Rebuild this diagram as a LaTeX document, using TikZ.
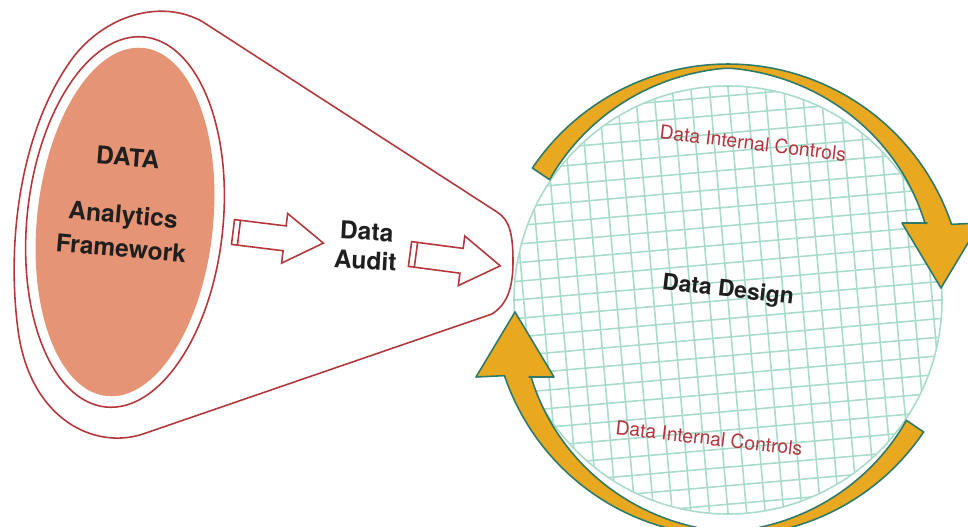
\documentclass[tikz,border=0pt]{standalone}
\usepackage{fontspec}
\setmainfont{TeX Gyre Heros}
\usepackage{tikz}
\usetikzlibrary{calc}

\definecolor{funnelred}{HTML}{B3373B}
\definecolor{dataorange}{HTML}{E59476}
\definecolor{gridteal}{HTML}{A8DCC9}
\definecolor{loopgold}{HTML}{E8A820}
\definecolor{loopteal}{HTML}{2E7A68}
\definecolor{ctrlred}{HTML}{B5333D}

\begin{document}
\begin{tikzpicture}[
		x=0.02cm, y=-0.02cm,
		funnel/.style={draw=funnelred, line width=0.9pt, fill=white},
		hollow/.style={draw=funnelred, line width=0.9pt, fill=white, line join=miter},
		looparrow/.style={fill=loopgold, draw=loopteal, line width=0.9pt, line join=round},
		bigtext/.style={font=\bfseries\fontsize{14}{16.5}\selectfont, align=center, text=black!88, inner sep=0pt},
		ctrltext/.style={font=\fontsize{11}{13}\selectfont, text=ctrlred, inner sep=0pt}
		]
		\useasboundingbox (0,0) rectangle (968,527);
		
		% Le cornet
		\draw[funnel] (203,22) -- (497,212)
			.. controls (510,220) and (513,235) .. (513,262)
			.. controls (513,290) and (506,305) .. (492,314)
			-- (143,434)
			.. controls (95,450) and (30,420) .. (18,330)
			.. controls (5,230) and (25,120) .. (75,55)
			.. controls (110,12) and (165,0) .. (203,22) -- cycle;
		\draw[funnelred, line width=0.9pt, rotate around={-6:(125,222)}]
			(125,222) ellipse [x radius=98, y radius=186];
		\fill[dataorange, rotate around={-6:(125,222)}]
			(125,222) ellipse [x radius=88, y radius=175];
		
		% Les fleches creuses
		\foreach \x/\y/\a in {233/232/-7, 410/254/-7.5} {
			\draw[hollow, shift={(\x,\y)}, rotate=\a]
				(0,-12.5) -- (52,-12.5) -- (52,-25) -- (91,0) -- (52,25) -- (52,12.5) -- (0,12.5) -- cycle
				(6,-12.5) -- (6,12.5);
		}
		
		% Le cercle quadrille
		\begin{scope}[shift={(728,300)}, yscale=-1]
			\begin{scope}
				\clip (0,0) circle (214);
				\begin{scope}[rotate=-5]
					\foreach \i in {-13,...,13} {
						\draw[gridteal, line width=0.9pt] (\i*18.5,-250) -- (\i*18.5,250);
						\draw[gridteal, line width=0.9pt] (-250,\i*18.5) -- (250,\i*18.5);
					}
				\end{scope}
			\end{scope}
			\draw[gridteal, line width=0.9pt] (0,0) circle (214);
			
			% Les fleches courbes
			\foreach \r in {0,180} {
				\filldraw[looparrow, rotate=\r]
					plot[domain=146:18.7, samples=60] (\x:236)
					-- (252,77) -- (213,12) -- (174,77) -- (199,77)
					-- plot[domain=21.2:146, samples=60] (\x:{232-0.3*abs(\x-90)})
					-- cycle;
			}
		\end{scope}
		
		% Les textes
		\node[bigtext, rotate=-4.5] (data) at (128,157) {DATA};
		\node[bigtext, rotate=-5] (analytics) at (123,217) {Analytics};
		\node[bigtext, rotate=-5] (framework) at (121,248) {Framework};
		\node[bigtext, rotate=-3] (audit) at (366,246) {Data\\Audit};
		\node[bigtext, font=\bfseries\fontsize{13}{15}\selectfont, rotate=-6.5] (design) at (728,291) {Data Design};
		\node[ctrltext, rotate=-7] (ctrltop) at (753,143) {Data Internal Controls};
		\node[ctrltext, rotate=-6.5] (ctrlbot) at (709,438) {Data Internal Controls};
	\end{tikzpicture}
\end{document}
